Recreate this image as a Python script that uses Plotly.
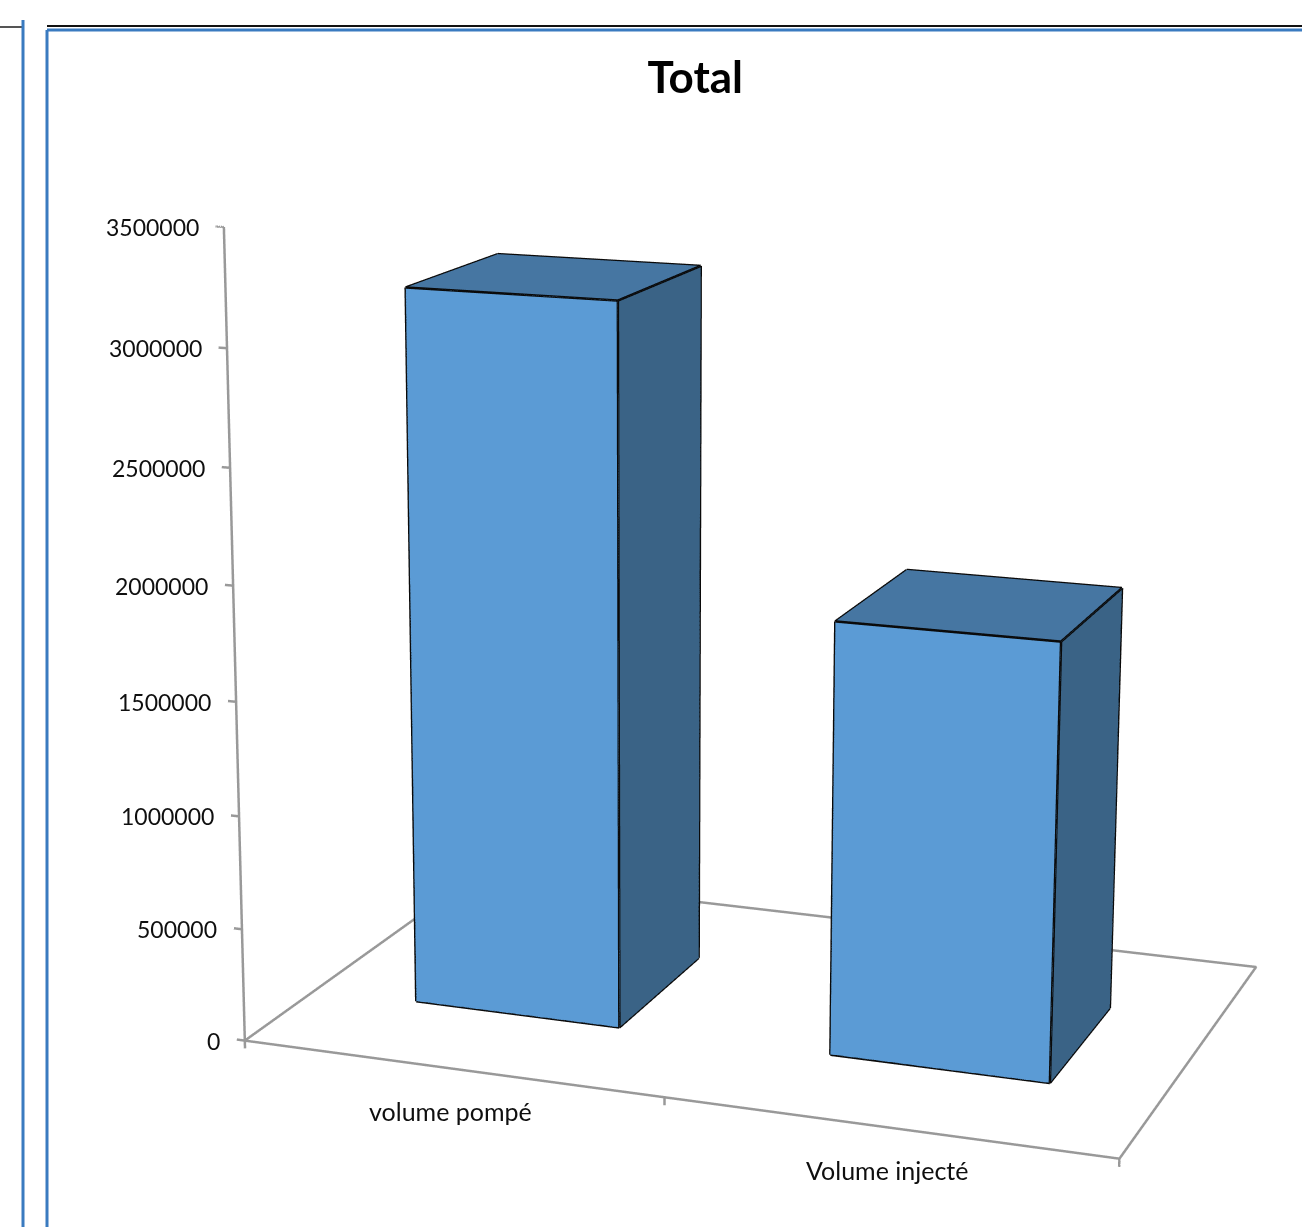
import plotly.graph_objects as go

# ---------------- data ----------------
categories = ["volume pompé", "Volume injecté"]
values = [3170000, 1890000]
z_ticks = [0, 500000, 1000000, 1500000, 2000000, 2500000, 3000000, 3500000]
z_tick_labels = [str(t) for t in z_ticks]
title_text = "Total"

# ---------------- style ----------------
FRONT = "#5B9BD5"
TOP = "#4676A2"
SIDE = "#3A6386"
EDGE = "#0A0A0A"
FLOOR = "#999999"
TEXT = "#0F0F0F"
FONT = "Lato"

half_w = 0.25            # half bar width (category units)
y0, y1 = 0.29, 0.69      # bar depth extent on the (hidden) depth axis
xmin, xmax = -0.5, len(categories) - 0.5
ymin, ymax = 0.0, 1.0
zmax = z_ticks[-1]
tick_dx = 0.02           # length of value-axis ticks (category units)
tick_dz = 35000          # length of category-axis ticks (value units)

# axis ranges slightly extended so the little tick marks are not clipped
x_range = [xmin - 0.02, xmax]
z_range = [-40000, zmax]

# camera (Excel-like 3-D view: rotation ~19deg, elevation ~16deg, narrow field of view)
base_x_len, base_z_len = xmax - xmin, zmax
base_aspect = dict(x=1.0, y=0.6496, z=0.9129)
base_eye = [1.4118, -4.0887, 1.0644]
base_center = [-0.0937, -0.1184, 0.0221]
fovy = 0.30593
# compensate the range extension so the view stays identical
sx = base_aspect["x"] / base_x_len
sz = base_aspect["z"] / base_z_len
aspect = dict(x=sx * (x_range[1] - x_range[0]), y=base_aspect["y"], z=sz * (z_range[1] - z_range[0]))
shift_x = sx * ((xmin + xmax) / 2 - (x_range[0] + x_range[1]) / 2)
shift_z = sz * (zmax / 2 - (z_range[0] + z_range[1]) / 2)
eye = dict(x=base_eye[0] + shift_x, y=base_eye[1], z=base_eye[2] + shift_z)
center = dict(x=base_center[0] + shift_x, y=base_center[1], z=base_center[2] + shift_z)

fig = go.Figure()

# ---------------- bars ----------------
ex_, ey_, ez_ = [], [], []
for i, v in enumerate(values):
    xa, xb = i - half_w, i + half_w
    vx = [xa, xb, xb, xa, xa, xb, xb, xa]
    vy = [y0, y0, y1, y1, y0, y0, y1, y1]
    vz = [0, 0, 0, 0, v, v, v, v]
    tri = [(0, 1, 5, FRONT), (0, 5, 4, FRONT), (3, 2, 6, FRONT), (3, 6, 7, FRONT),
           (1, 2, 6, SIDE), (1, 6, 5, SIDE), (0, 3, 7, SIDE), (0, 7, 4, SIDE),
           (4, 5, 6, TOP), (4, 6, 7, TOP), (0, 1, 2, TOP), (0, 2, 3, TOP)]
    fig.add_trace(go.Mesh3d(
        x=vx, y=vy, z=vz,
        i=[t[0] for t in tri], j=[t[1] for t in tri], k=[t[2] for t in tri],
        facecolor=[t[3] for t in tri], flatshading=True,
        lighting=dict(ambient=1, diffuse=0, specular=0, roughness=1, fresnel=0),
        hovertemplate=categories[i] + ": %{z}<extra></extra>", showscale=False, name=categories[i]))
    for a, b in [(0, 1), (1, 2), (2, 3), (3, 0), (4, 5), (5, 6), (6, 7), (7, 4),
                 (0, 4), (1, 5), (2, 6), (3, 7)]:
        ex_ += [vx[a], vx[b], None]
        ey_ += [vy[a], vy[b], None]
        ez_ += [vz[a], vz[b], None]
fig.add_trace(go.Scatter3d(x=ex_, y=ey_, z=ez_, mode="lines",
                           line=dict(color=EDGE, width=5), hoverinfo="skip", showlegend=False))

# ---------------- floor outline, value axis, ticks ----------------
fx = [xmin, xmax, xmax, xmin, xmin, None, xmin, xmin, None]
fy = [ymin, ymin, ymax, ymax, ymin, None, ymin, ymin, None]
fz = [0, 0, 0, 0, 0, None, 0, zmax, None]
for t in z_ticks:
    fx += [xmin, xmin - tick_dx, None]; fy += [ymin, ymin, None]; fz += [t, t, None]
for k in range(len(categories) + 1):
    xb = xmin + k
    fx += [xb, xb, None]; fy += [ymin, ymin, None]; fz += [0, -tick_dz, None]
fig.add_trace(go.Scatter3d(x=fx, y=fy, z=fz, mode="lines",
                           line=dict(color=FLOOR, width=5), hoverinfo="skip", showlegend=False))

axis_common = dict(showbackground=False, showgrid=False, zeroline=False, showspikes=False,
                   title=dict(text=""), showline=False, showticklabels=False, ticks="")
ann = [dict(x=xmin, y=ymin, z=t, text=lab, showarrow=False, xanchor="right", xshift=-23,
            font=dict(family=FONT, size=23, color=TEXT)) for t, lab in zip(z_ticks, z_tick_labels)]
ann += [dict(x=i, y=ymin, z=0, text=c, showarrow=False, yanchor="middle", yshift=-43,
             font=dict(family=FONT, size=25, color=TEXT)) for i, c in enumerate(categories)]

shapes = [
    dict(type="line", xref="paper", yref="paper", x0=0, x1=22/1302, y0=1-27/1227, y1=1-27/1227,
         line=dict(color="#555555", width=2)),
    dict(type="line", xref="paper", yref="paper", x0=23/1302, x1=23/1302, y0=1-20/1227, y1=0,
         line=dict(color="#3A7BC0", width=3)),
    dict(type="line", xref="paper", yref="paper", x0=47/1302, x1=1, y0=1-26/1227, y1=1-26/1227,
         line=dict(color="#111111", width=2)),
    dict(type="line", xref="paper", yref="paper", x0=47/1302, x1=1, y0=1-30/1227, y1=1-30/1227,
         line=dict(color="#3A7BC0", width=3)),
    dict(type="line", xref="paper", yref="paper", x0=47/1302, x1=47/1302, y0=1-30/1227, y1=0,
         line=dict(color="#3A7BC0", width=3)),
]

fig.update_layout(
    width=1302, height=1227, margin=dict(l=0, r=0, t=0, b=0),
    paper_bgcolor="white", showlegend=False,
    title=dict(text="<b>" + title_text + "</b>", x=0.534, xanchor="center", y=0.937, yanchor="middle",
               font=dict(family=FONT, size=44, color="#000000")),
    scene=dict(
        domain=dict(x=[0, 1], y=[0, 1]),
        xaxis=dict(axis_common, range=x_range),
        yaxis=dict(axis_common, range=[ymin, ymax]),
        zaxis=dict(axis_common, range=z_range),
        aspectmode="manual", aspectratio=aspect,
        camera=dict(eye=eye, center=center, up=dict(x=0, y=0, z=1),
                    projection=dict(type="perspective")),
        annotations=ann,
    ),
    shapes=shapes,
)

# narrow field of view, like the original 3-D chart
post = """
var gd = document.getElementById('{plot_id}');
function setFov(n){
  var sc = gd && gd._fullLayout && gd._fullLayout.scene && gd._fullLayout.scene._scene;
  if(!sc || !sc.glplot){ if(n < 100) setTimeout(function(){ setFov(n+1); }, 30); return; }
  sc.glplot.fovy = FOVY;
  if(sc.glplot.redraw) sc.glplot.redraw();
}
setFov(0);
""".replace("FOVY", "%.6f" % fovy)
fig.write_html("out.html", post_script=post)
